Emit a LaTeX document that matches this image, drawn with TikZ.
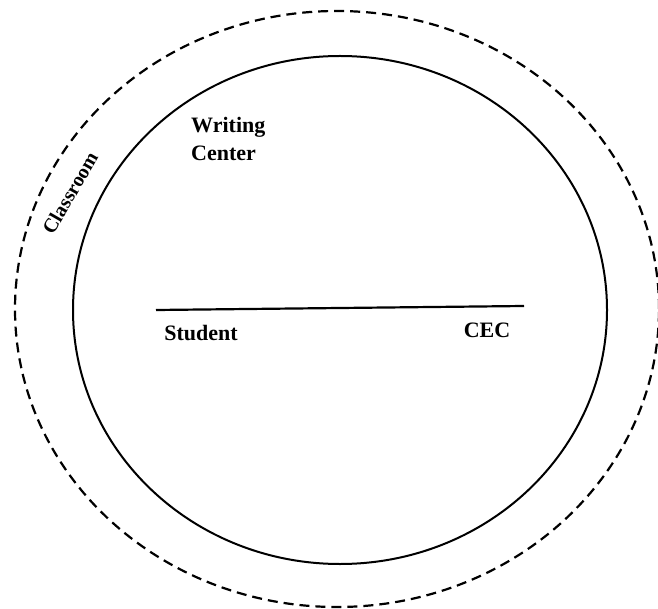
\documentclass[tikz,border=0pt]{standalone}
\usepackage{fontspec}
\setmainfont{Liberation Serif}
\usetikzlibrary{positioning}

\tikzset{
  lbl/.style={font=\bfseries\fontsize{22}{28}\selectfont, inner sep=0pt}
}

\begin{document}
\begin{tikzpicture}[x=1pt, y=-1pt]
            \useasboundingbox (0,0) rectangle (658,609);
            % classroom and writing center
            \draw[line width=2.2pt, dash pattern=on 10pt off 6pt] (337,309) ellipse [x radius=322pt, y radius=298pt];
            \draw[line width=2pt] (340,310) ellipse [x radius=267pt, y radius=254pt];

            \coordinate (L) at (156,310);
            \coordinate (R) at (524,306);
            \draw[line width=2.2pt] (L) -- (R);

            \node[lbl] (student) at (201,333) {Student};
            \node[lbl] (cec) at (487,330) {CEC};
            \node[lbl, align=left, anchor=west] (wc) at (191,139) {Writing\\Center};
            \node[lbl, font=\bfseries\fontsize{20}{24}\selectfont, rotate=60] (classroom) at (70,193) {Classroom};
\end{tikzpicture}
\end{document}
